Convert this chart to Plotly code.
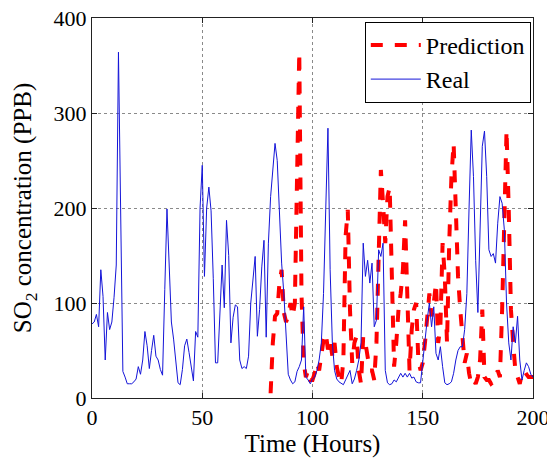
import plotly.graph_objects as go

real_hours = list(range(0, 201))
real_values = [
    78, 80, 88, 75, 135, 107, 40, 90, 72, 80,
    106, 140, 364, 200, 28, 22, 15, 15, 15, 17,
    20, 33, 25, 40, 70, 55, 31, 50, 66, 44,
    40, 30, 24, 114, 199, 140, 80, 62, 40, 16,
    14, 30, 55, 62, 48, 35, 18, 70, 64, 200,
    245, 128, 200, 222, 197, 126, 37, 37, 86, 140,
    95, 187, 150, 58, 85, 98, 96, 40, 31, 33,
    31, 44, 100, 128, 149, 65, 93, 138, 166, 64,
    163, 212, 240, 268, 250, 190, 142, 110, 60, 25,
    19, 15, 17, 28, 33, 40, 96, 22, 19, 15,
    20, 22, 29, 40, 58, 110, 198, 284, 135, 58,
    29, 20, 17, 15, 14, 19, 24, 29, 15, 20,
    29, 40, 58, 163, 128, 145, 121, 142, 75, 82,
    156, 149, 163, 29, 16, 14, 15, 19, 17, 22,
    26, 22, 26, 22, 26, 21, 22, 17, 16, 16,
    40, 57, 82, 100, 75, 96, 47, 40, 54, 33,
    16, 14, 15, 17, 26, 40, 50, 54, 54, 72,
    110, 200, 282, 233, 145, 90, 184, 265, 281, 233,
    156, 149, 152, 142, 184, 212, 205, 177, 100, 58,
    40, 75, 58, 86, 40, 19, 29, 37, 33, 25,
    22,
]

pred_hours = list(range(81, 201))
pred_values = [
    5, 58, 86, 89, 121, 135, 90, 80, 86, 100,
    86, 100, 233, 364, 110, 37, 22, 29, 19, 19,
    26, 37, 29, 47, 61, 68, 51, 61, 44, 58,
    33, 22, 15, 40, 170, 198, 93, 37, 58, 65,
    29, 15, 65, 58, 40, 29, 29, 19, 58, 135,
    240, 205, 163, 212, 222, 128, 33, 58, 93, 110,
    135, 187, 100, 29, 72, 93, 100, 40, 29, 37,
    58, 86, 110, 86, 100, 121, 58, 75, 163, 128,
    58, 163, 233, 268, 198, 128, 93, 58, 37, 47,
    26, 15, 19, 15, 22, 40, 93, 22, 19, 19,
    15, 17, 19, 29, 22, 93, 198, 282, 198, 93,
    58, 29, 22, 15, 26, 29, 25, 22, 22, 22,
]

x_ticks = [0, 50, 100, 150, 200]
y_ticks = [0, 100, 200, 300, 400]

FONT = "Liberation Serif"

fig = go.Figure()
fig.add_trace(go.Scatter(
    x=pred_hours, y=pred_values, mode="lines", name="Prediction",
    line=dict(color="#ff0000", width=4, dash="dash"),
))
fig.add_trace(go.Scatter(
    x=real_hours, y=real_values, mode="lines", name="Real",
    line=dict(color="#1414d8", width=1),
))

axis_common = dict(
    showline=True, linecolor="#222222", linewidth=1, mirror="ticks",
    ticks="inside", ticklen=5, tickcolor="#222222",
    showgrid=True, gridcolor="#8a8a8a", griddash="dot", gridwidth=1,
    zeroline=False, automargin=False, ticklabeloverflow="allow",
    tickfont=dict(family=FONT, size=22, color="black"),
)

fig.update_xaxes(
    range=[0, 200], tickvals=x_ticks, ticktext=[str(v) for v in x_ticks],
    title=dict(text="Time (Hours)", font=dict(family=FONT, size=25, color="black"), standoff=0),
    **axis_common,
)
fig.update_yaxes(
    range=[0, 400], tickvals=y_ticks, ticktext=[str(v) for v in y_ticks],
    title=dict(text="SO<sub>2</sub> concentration (PPB)", font=dict(family=FONT, size=25, color="black"), standoff=14),
    **axis_common,
)

fig.update_layout(
    width=547, height=452,
    margin=dict(l=84, r=22, t=10, b=62),
    paper_bgcolor="white", plot_bgcolor="white",
    showlegend=True,
    legend=dict(
        x=0.995, y=0.99, xanchor="right", yanchor="top",
        bgcolor="white", bordercolor="black", borderwidth=1,
        font=dict(family=FONT, size=24, color="black"),
        itemwidth=50, tracegroupgap=0,
    ),
)

fig.write_html("out.html")
